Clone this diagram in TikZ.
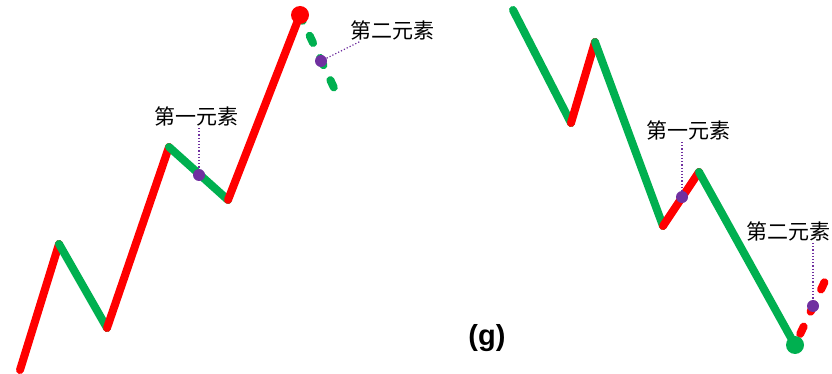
\documentclass[tikz,border=0pt]{standalone}
\usepackage{fontspec}
\setmainfont{Liberation Sans}
\newfontfamily\cjk{Noto Sans CJK SC}
\definecolor{upred}{RGB}{255,0,0}
\definecolor{downgreen}{RGB}{0,176,80}
\definecolor{markpurple}{RGB}{112,48,160}

\begin{document}
\begin{tikzpicture}[x=1pt, y=-1pt]

% Stili
\tikzstyle{upline} = [line width=8pt, line cap=round, upred]
\tikzstyle{downline} = [line width=8pt, line cap=round, downgreen]
\tikzstyle{extline} = [line width=8pt, line cap=round, dash pattern=on 8pt off 16.5pt]
\tikzstyle{enddot} = [circle, inner sep=0pt, minimum size=18pt]
\tikzstyle{elemdot} = [circle, fill=markpurple, inner sep=0pt, minimum size=12pt]
\tikzstyle{elemlabel} = [inner sep=2pt, font=\cjk\fontsize{21}{25}\selectfont]
\tikzstyle{guide} = [markpurple, line width=1.2pt, dotted]

\useasboundingbox (0,0) rectangle (832,374);

% Punti a sinistra
\coordinate (l0) at (20,370);
\coordinate (l1) at (59,244);
\coordinate (l2) at (107,328);
\coordinate (l3) at (169,147);
\coordinate (l4) at (228,200);
\coordinate (l5) at (300,15);
\coordinate (lend) at (335,90);

% Punti a destra
\coordinate (r0) at (513,10);
\coordinate (r1) at (571,123);
\coordinate (r2) at (595,42);
\coordinate (r3) at (663,226);
\coordinate (r4) at (699,172);
\coordinate (r5) at (795,345);
\coordinate (rend) at (825,281);

% Segmenti
\draw [upline] (l0) -- (l1);
\draw [downline] (l1) -- (l2);
\draw [upline] (l2) -- (l3);
\draw [downline] (l3) -- (l4);
\draw [upline] (l4) -- (l5);
\draw [downline, extline, dash phase=1.6pt] (l5) -- (lend);

\draw [downline] (r0) -- (r1);
\draw [upline] (r1) -- (r2);
\draw [downline] (r2) -- (r3);
\draw [upline] (r3) -- (r4);
\draw [downline] (r4) -- (r5);
\draw [upline, extline, dash phase=12.2pt] (r5) -- (rend);

% Punti finali
\node (ltop) [enddot, fill=upred] at (l5) {};
\node (rbot) [enddot, fill=downgreen] at (r5) {};

% Elementi
\node (lfirst) [elemdot] at (199,175) {};
\node (lsecond) [elemdot] at (321,61) {};
\node (rfirst) [elemdot] at (682,197) {};
\node (rsecond) [elemdot] at (813,306) {};

\node (lfirstlab) [elemlabel] at (196,116) {第一元素};
\node (lsecondlab) [elemlabel] at (392,30) {第二元素};
\node (rfirstlab) [elemlabel] at (688,130) {第一元素};
\node (rsecondlab) [elemlabel] at (788,231) {第二元素};

\draw [guide] (lfirstlab.south -| lfirst) -- (lfirst);
\draw [guide] (lsecondlab.200) -- (lsecond);
\draw [guide] (rfirstlab.south -| rfirst) -- (rfirst);
\draw [guide] (rsecondlab.south -| rsecond) -- (rsecond);

% Didascalia
\node (caption) at (487,338) {\fontsize{29}{34}\selectfont\bfseries (g)};

\end{tikzpicture}
\end{document}
